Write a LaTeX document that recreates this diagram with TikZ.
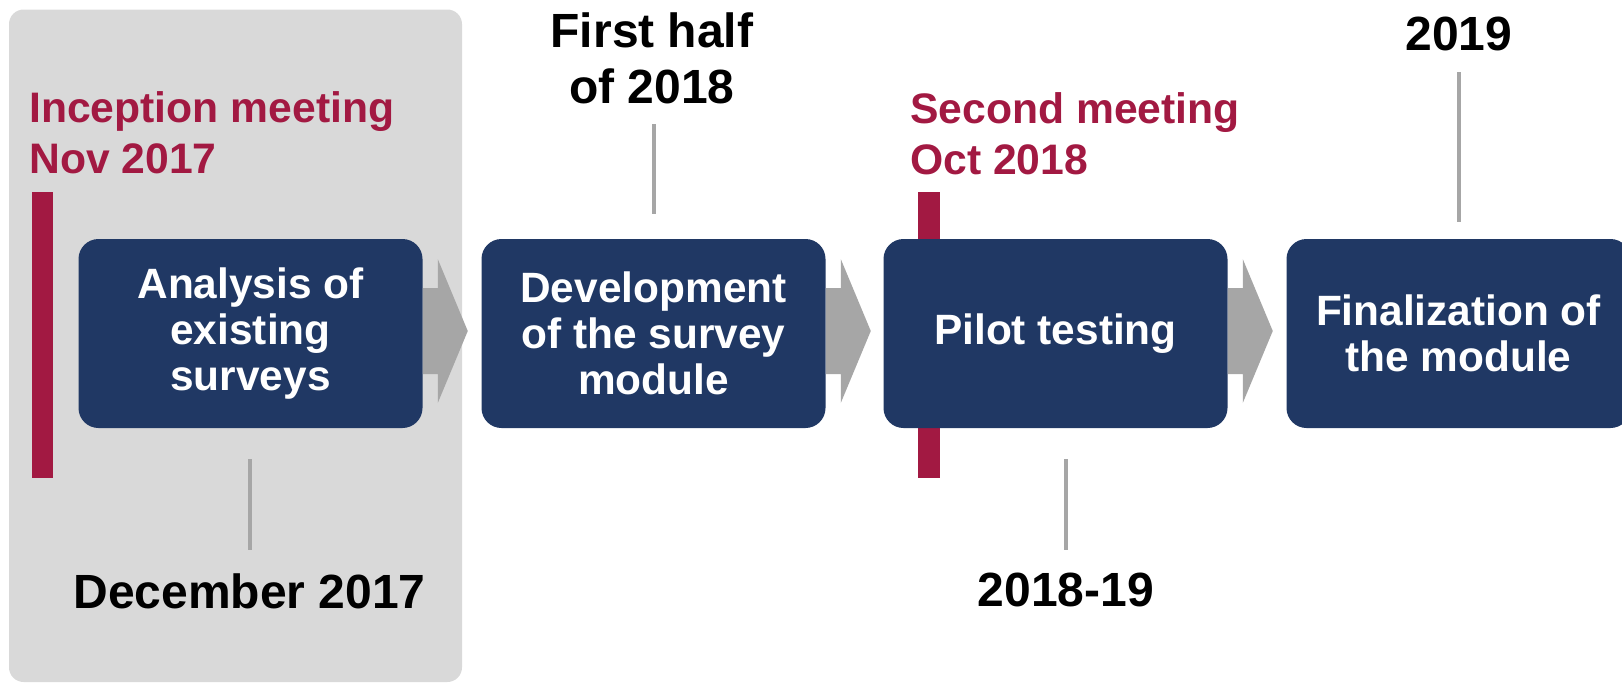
\documentclass[tikz,border=0pt]{standalone}
\usepackage{fontspec}
\setmainfont{Liberation Sans}
\usetikzlibrary{calc}
\definecolor{boxblue}{HTML}{203864}
\definecolor{meetred}{HTML}{A21942}
\definecolor{panelgray}{HTML}{D9D9D9}
\definecolor{flowgray}{HTML}{A6A6A6}

\begin{document}
\begin{tikzpicture}[x=0.75pt, y=-0.75pt,
  stage/.style={fill=boxblue, rounded corners=15pt, minimum width=258pt,
    minimum height=141.75pt, inner sep=0pt, text=white, align=center,
    font=\bfseries\fontsize{31.8}{34.5}\selectfont},
  meeting/.style={anchor=north west, inner sep=0pt, text=meetred, align=left,
    font=\bfseries\fontsize{32}{38.5}\selectfont},
  when/.style={anchor=north, inner sep=0pt, align=center,
    font=\bfseries\fontsize{36}{42.5}\selectfont},
  tick/.style={draw=flowgray, line width=3pt}]
\useasboundingbox (0,0) rectangle (1622,683);
\fill[panelgray, rounded corners=11pt] (9,9.5) rectangle (462,682);
\fill[meetred] (32,192) rectangle (53,478);
\fill[meetred] (918,192) rectangle (940,478);

\node[stage] (analysis) at (250.5,333.5) {Analysis of\\existing\\surveys};
\node[stage] (develop) at (653.5,333.5) {Development\\of the survey\\module};
\node[stage] (pilot) at (1055.5,333.5) {Pilot testing};
\node[stage] (final) at (1458.5,333.5) {Finalization of\\the module};

\node[meeting] (inception) at (29,91) {Inception meeting\\Nov 2017};
\node[meeting] (second) at (910,92) {Second meeting\\Oct 2018};
\node[when] (dec) at (249.5,573) {December 2017};
\node[when] (firsthalf) at (652,12) {First half\\of 2018};
\node[when] (yr3) at (1066,573) {2018-19};
\node[when] (yr4) at (1459,17) {2019};

\foreach \a in {analysis, develop, pilot}
  \fill[flowgray] ($(\a.east)+(0,-2.5)$) ++(0,-43) -- ++(15,0) -- ++(0,-29)
    -- ++(30,72) -- ++(-30,72) -- ++(0,-29) -- ++(-15,0) -- cycle;

\draw[tick] ($(analysis.south -| dec.north)+(0,31)$) -- ++(0,91);
\draw[tick] ($(develop.north)+(0,-25)$) -- ++(0,-90);
\draw[tick] ($(pilot.south -| yr3.north)+(0,31)$) -- ++(0,91);
\draw[tick] ($(final.north -| yr4.south)+(0,-17)$) -- ++(0,-150);

\end{tikzpicture}
\end{document}
